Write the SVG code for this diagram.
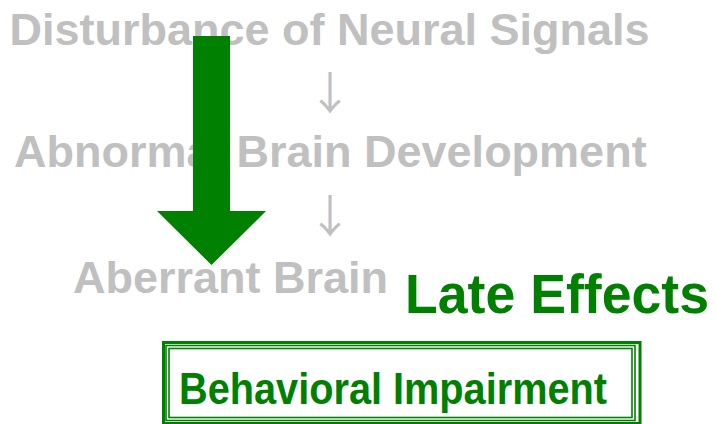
<svg xmlns="http://www.w3.org/2000/svg" width="718" height="424" viewBox="0 0 718 424">
  <style>
    .step { font-family: "Liberation Sans", Arial, sans-serif; font-weight: bold; font-size: 45px; fill: #c0c0c0; }
    .down { font-family: "Noto Sans CJK JP", "DejaVu Sans", sans-serif; font-size: 45px; fill: #c0c0c0; text-anchor: middle; }
    .green { font-family: "Liberation Sans", Arial, sans-serif; font-weight: bold; fill: #008000; }
    .frame { fill: none; stroke: #008000; }
  </style>
  <rect width="718" height="424" fill="#ffffff"/>

  <g id="disturbance">
    <text class="step" x="9.5" y="45">Disturbance of Neural Signals</text>
  </g>
  <g id="abnormal-development">
    <text class="step" x="14" y="167">Abnormal Brain Development</text>
  </g>
  <g id="aberrant-brain">
    <text class="step" x="73" y="293">Aberrant Brain</text>
  </g>

  <g id="connectors">
    <text class="down" x="330" y="110">↓</text>
    <text class="down" x="330" y="233">↓</text>
    <!-- broad arrow spanning the chain -->
    <polygon points="193,36 230,36 230,211 266,211 211.5,265 157,211 193,211" fill="#008000"/>
  </g>

  <g id="late-effects">
    <text class="green" x="405" y="313" font-size="55" textLength="304" lengthAdjust="spacingAndGlyphs">Late Effects</text>
  </g>

  <g id="behavioral-impairment">
    <rect class="frame" x="163.5" y="342.5" width="476.5" height="81" stroke-width="3"/>
    <rect class="frame" x="166" y="345.5" width="469" height="75" stroke-width="1.6"/>
    <rect class="frame" x="169" y="348.5" width="463" height="69" stroke-width="1.6"/>
    <text class="green" x="179" y="403.5" font-size="44" textLength="428" lengthAdjust="spacingAndGlyphs">Behavioral Impairment</text>
  </g>
</svg>
